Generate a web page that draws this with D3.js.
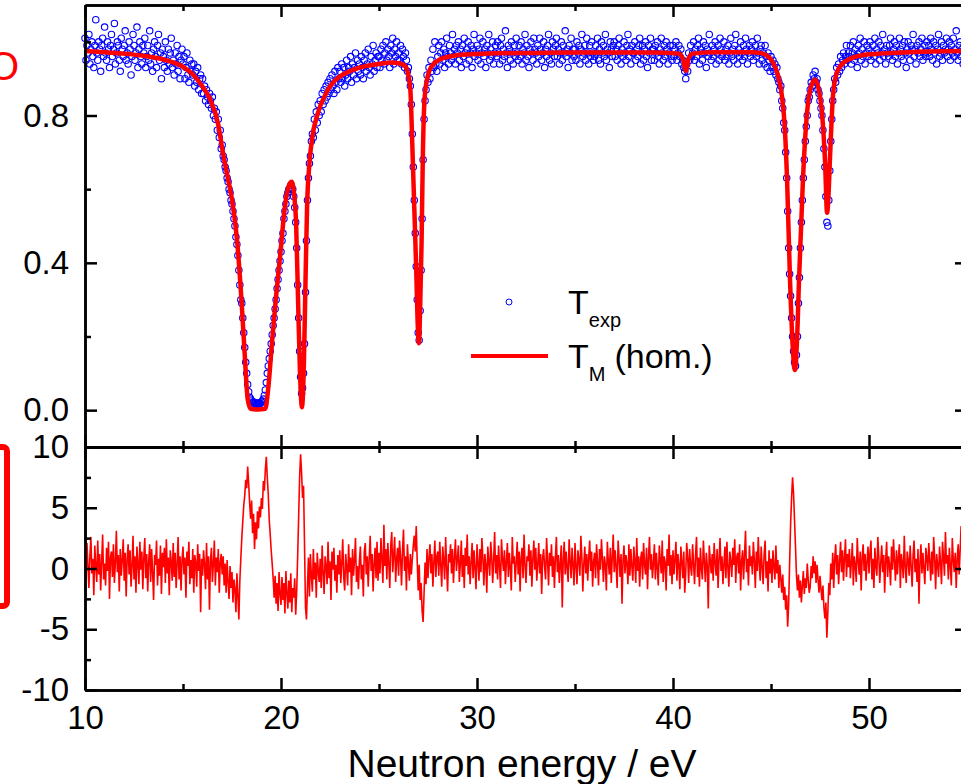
<!DOCTYPE html>
<html>
<head>
<meta charset="utf-8">
<script src="https://cdn.jsdelivr.net/npm/d3@7"></script>
<style>
  body { margin: 0; background: #fff; }
  svg { display: block; font-family: Arial, "Liberation Sans", sans-serif; }
</style>
</head>
<body>
<svg id="chart"></svg>
<script>
// fitted curve T_M (hom.)
const fitE = [10, 11, 12, 13, 14, 14.5, 15, 15.5, 16, 16.4, 16.8, 17.0, 17.25, 17.5, 17.75, 18.0, 18.15, 18.3, 18.45, 18.8, 19.2,
  19.35, 19.55, 19.75, 19.95, 20.2, 20.4, 20.55, 20.68, 20.77, 20.87, 20.97, 21.07, 21.17, 21.25, 21.33, 21.45, 21.58, 21.89,
  22.2, 22.5, 23, 23.5, 24, 25, 25.6, 26.0, 26.3, 26.45, 26.6, 26.7, 26.8, 26.9, 26.97, 27.04, 27.1, 27.17, 27.24, 27.32,
  27.45, 27.7, 28.1, 28.8, 29.6, 31, 33, 35, 37, 39, 40.3, 40.5, 40.66, 40.8, 41.0, 42, 43, 44, 44.44, 44.8, 45.1, 45.35,
  45.56, 45.7, 45.82, 45.97, 46.1, 46.22, 46.32, 46.43, 46.63, 46.84, 47.0, 47.24, 47.42, 47.6, 47.76, 47.86, 47.93, 48.0,
  48.16, 48.3, 48.52, 49, 50, 52, 55];
const fitT = [.975, .972, .968, .962, .952, .944, .932, .912, .878, .842, .775, .71, .64, .571, .465, .285, .15, .03, .004, .002, .004,
  .06, .19, .31, .416, .552, .61, .62, .58, .509, .30, .10, .008, .13, .35, .552, .67, .735, .808,
  .85, .879, .906, .92, .93, .94, .944, .942, .936, .92, .87, .72, .55, .38, .24, .182, .28, .45, .70, .84,
  .898, .935, .952, .962, .966, .969, .970, .971, .971, .971, .968, .955, .921, .955, .968, .972, .972, .972, .970, .962, .944, .91,
  .852, .77, .626, .354, .18, .109, .18, .354, .626, .808, .87, .898, .875, .808, .672, .536, .58, .672,
  .852, .905, .933, .953, .966, .972, .975];

// measured transmission, one row per eV, points 0.05 eV apart
const expStart = 10;
const expStep = 0.05;
const expRows = [
  [1.01,.95,.99,.97,1.02,.94,.98,1.00,.96,.93,.99,1.06,.97,.95,1.00,.98,.92,.99,1.01,.96],
  [1.04,.97,.95,1.00,.98,.93,.99,1.02,.96,.98,1.05,.94,.97,1.00,.99,.95,.92,1.01,.98,.96],
  [.99,1.03,.95,.97,.94,1.00,.98,.91,.96,1.02,.99,.95,.97,1.04,.93,.98,1.00,.96,.94,.99],
  [.97,1.01,.93,.96,.99,.95,1.03,.94,.97,.92,.98,1.00,.96,.93,.99,1.02,.95,.97,.90,.98],
  [.96,.93,1.00,.95,.92,.98,.94,.97,1.01,.93,.95,.91,.97,.94,.99,.92,.96,.90,.95,.98],
  [.94,.96,.90,.93,.97,.91,.89,.95,.92,.94,.91,.94,.88,.92,.89,.93,.87,.90,.91,.86],
  [.90,.86,.88,.84,.87,.85,.83,.86,.84,.82,.85,.80,.82,.79,.81,.76,.79,.74,.76,.71],
  [.72,.69,.68,.66,.65,.63,.62,.60,.59,.57,.56,.54,.52,.50,.47,.45,.42,.38,.34,.30],
  [.29,.25,.21,.17,.13,.10,.07,.05,.035,.03,.025,.02,.022,.018,.02,.016,.019,.017,.02,.018],
  [.022,.025,.03,.04,.055,.075,.10,.12,.14,.16,.18,.205,.23,.25,.275,.30,.33,.355,.38,.405],
  [.43,.46,.48,.52,.54,.56,.58,.59,.60,.60,.61,.60,.60,.58,.55,.51,.44,.34,.25,.16],
  [.09,.045,.06,.10,.18,.32,.46,.57,.63,.67,.69,.73,.75,.74,.79,.76,.81,.78,.83,.80],
  [.84,.81,.86,.83,.87,.84,.88,.85,.89,.86,.90,.87,.91,.88,.86,.92,.89,.87,.93,.90],
  [.92,.89,.94,.90,.93,.88,.91,.95,.90,.93,.92,.96,.89,.94,.91,.93,.97,.90,.95,.92],
  [.94,.91,.96,.93,.90,.95,.97,.92,.94,.98,.93,.91,.96,.94,.99,.92,.95,.97,.93,.96],
  [.96,.93,.98,.95,.99,.94,.97,1.00,.95,.98,.96,.93,.99,.97,1.01,.94,.98,.96,1.00,.95],
  [.97,.95,.99,.94,.98,.96,.93,.97,.95,.92,.93,.90,.88,.83,.75,.66,.57,.48,.39,.30],
  [.21,.19,.27,.38,.52,.68,.79,.84,.87,.91,.89,.93,.90,.95,.92,.98,.93,1.00,.94,.92],
  [.96,.99,.94,.97,1.00,.95,.98,.93,.97,1.01,.96,.94,.99,.97,.95,1.02,.96,.98,.94,.99],
  [.97,1.00,.95,.98,.93,.99,.96,1.01,.97,.94,.98,1.00,.95,.97,.99,.93,.98,1.02,.96,.97],
  [.99,.95,.98,1.01,.94,.97,1.00,.96,.98,.93,.99,.97,1.02,.95,.98,.96,1.00,.94,.97,.99],
  [.96,1.00,.97,.94,.99,1.01,.95,.98,.96,1.03,.97,.93,.99,.98,.95,1.00,.97,.94,.99,.96],
  [1.01,.97,.95,.99,.96,1.00,.94,.98,.97,1.02,.95,.99,.96,.93,.98,1.00,.97,.95,1.01,.98],
  [.97,.94,.99,.96,1.01,.98,.95,.97,1.00,.93,.98,.96,.99,1.02,.95,.97,.94,1.00,.98,.96],
  [.99,1.01,.96,.98,.94,.97,1.00,.95,.99,.97,1.03,.96,.98,.93,.99,.97,1.01,.95,.98,.96],
  [.98,.95,1.00,.97,.99,.94,.98,1.02,.96,.97,.99,.95,1.01,.97,.94,.99,.96,1.00,.97,.95],
  [.96,.99,.97,1.01,.95,.98,.94,1.00,.97,.99,.96,1.02,.95,.98,.97,.93,1.00,.98,.96,.99],
  [1.00,.96,.98,.95,.99,1.01,.97,.94,.98,.96,1.00,.97,.95,.99,1.02,.96,.98,.94,.99,.97],
  [.97,1.00,.95,.98,.96,.99,1.01,.94,.97,.99,.95,.98,1.00,.96,.93,.99,.97,1.01,.95,.98],
  [.98,.95,.99,.97,1.00,.96,.94,.98,1.01,.97,.95,.99,.96,1.00,.98,.94,.97,.99,.96,.95],
  [.99,.96,.98,1.00,.95,.97,.99,.96,.98,.94,.95,.93,.92,.90,.94,.92,.97,.95,.99,.96],
  [.97,1.00,.95,.98,.96,.99,1.01,.94,.98,.97,.95,1.00,.97,.99,.93,.98,.96,1.02,.97,.95],
  [.99,.96,.98,1.00,.94,.97,.99,.95,1.01,.98,.96,.97,1.00,.95,.98,.96,.99,.94,.97,1.01],
  [.96,.98,.95,.99,1.02,.97,.94,.98,.96,1.00,.97,.95,.99,.96,1.01,.98,.94,.97,.99,.96],
  [.98,1.00,.95,.97,.99,.96,1.01,.97,.94,.98,.99,.95,.97,.94,.99,.96,.93,.97,.95,.92],
  [.96,.93,.95,.92,.94,.91,.93,.90,.89,.87,.88,.84,.82,.78,.76,.70,.63,.54,.44,.37],
  [.31,.25,.20,.16,.13,.12,.15,.20,.29,.36,.44,.51,.57,.63,.68,.73,.77,.80,.84,.85],
  [.87,.89,.88,.91,.90,.92,.89,.90,.87,.86,.84,.82,.80,.76,.71,.66,.58,.51,.50,.57],
  [.65,.73,.79,.84,.87,.90,.89,.93,.91,.94,.92,.96,.93,.95,.97,.94,.96,.99,.95,.97],
  [.96,.99,.94,.97,1.00,.95,.98,.96,.93,.99,.97,1.01,.95,.98,.96,1.00,.94,.97,.99,.96],
  [.98,1.00,.95,.97,.99,.96,1.01,.94,.98,.97,1.00,.95,.99,.97,1.02,.96,.98,.94,.99,.97],
  [.96,.99,1.01,.97,.95,.98,1.00,.96,.99,.94,.97,1.01,.98,.96,.99,.95,1.00,.97,.93,.98],
  [1.00,.97,.95,.99,.98,1.02,.96,.98,.94,.99,.97,1.00,.96,.98,1.01,.95,.97,.99,.96,1.00],
  [.97,.99,.96,1.01,.98,.95,1.00,.97,.99,.94,.98,1.02,.96,.97,1.00,.95,.99,.97,.98,1.01],
  [.96,.98,1.00,.95,.99,.97,1.01,.96,.98,1.03,.97,.95,.99,1.00,.96,.98,.94,.99,.97,1.00],
  [.98]
];

// residuals on the same grid
const resRows = [
  [1.5,-0.8,2.1,0.3,-1.6,1.0,2.6,-0.4,0.8,-2.2,1.9,0.2,-1.1,2.3,-0.5,1.2,-1.8,0.6,2.8,-0.9],
  [0.4,-1.4,1.7,-0.2,2.2,-2.5,0.9,1.4,-0.7,2.0,-1.2,0.5,3.1,-0.3,1.1,-1.9,1.6,-0.6,0.7,2.4],
  [-1.0,1.3,-2.3,0.8,2.0,-0.5,1.5,-1.5,0.2,2.7,-0.9,1.0,-2.0,1.8,0.4,-1.3,2.2,-0.1,1.4,-1.7],
  [0.9,2.5,-0.8,1.2,-1.9,0.6,2.0,-1.1,1.6,-0.3,-2.6,1.1,0.3,2.3,-1.4,0.8,-0.6,1.9,-2.1,1.3],
  [0.1,1.7,-1.2,2.4,-0.4,0.9,-2.2,1.5,0.6,-1.0,2.1,-0.7,1.3,-1.6,0.4,2.6,-0.9,1.0,-1.8,0.7],
  [1.8,-0.5,0.9,-2.4,1.4,0.2,2.2,-1.3,0.7,-0.8,1.6,-2.0,1.1,0.5,-1.5,2.0,-0.2,1.2,-3.6,0.8],
  [-0.6,1.5,0.3,-1.7,2.1,-0.9,1.0,-3.4,0.6,1.7,-1.1,0.4,2.3,-1.4,0.9,-0.3,1.6,-2.0,0.5,1.2],
  [-0.5,1.0,-1.4,0.4,-2.0,0.7,-1.1,-2.5,0.2,-1.6,-0.3,-2.8,-0.9,-1.7,-3.6,-0.4,-2.2,-4.2,-1.0,0.8],
  [2.5,3.9,5.2,6.0,7.3,6.6,8.4,7.0,5.4,4.1,5.6,2.9,4.5,1.6,3.8,2.4,4.7,3.3,5.1,4.2],
  [5.8,4.9,7.2,6.4,8.1,9.2,7.5,6.1,4.0,2.8,1.5,0.4,-0.8,-2.4,-0.6,-2.9,-1.2,-3.5,-0.3,-2.1],
  [-3.0,-0.7,-2.6,-1.2,-3.7,-0.2,-2.0,-3.3,-1.0,-2.8,-0.4,-3.6,-1.6,-2.4,-0.8,-3.8,-1.9,1.0,4.2,7.5],
  [9.4,7.9,5.8,6.8,2.0,-3.2,-4.2,-1.5,0.9,-2.3,1.2,-0.6,-1.9,1.6,-0.9,0.5,-2.4,1.3,-0.2,-1.1],
  [0.8,-1.6,1.9,-0.4,-2.1,1.0,0.2,-1.3,2.2,-0.8,0.6,-2.6,1.4,-0.1,1.7,-1.0,0.3,-2.0,1.1,-0.5],
  [1.5,-1.2,0.4,2.4,-0.7,-1.8,1.2,0.1,-1.4,2.0,-0.3,0.9,-2.2,1.6,-0.6,0.7,2.5,-1.1,0.2,-1.7],
  [0.6,1.8,-0.9,0.3,-2.3,1.4,2.1,-0.5,1.0,-1.5,0.8,2.7,-0.2,1.2,-1.9,0.4,1.7,-0.8,2.2,-1.0],
  [1.3,-0.4,2.5,0.7,-1.2,3.6,0.2,1.6,-0.9,2.1,0.5,-1.6,1.9,3.0,-0.3,1.1,2.6,-1.1,0.8,1.7],
  [-0.6,2.3,0.9,-1.4,1.5,3.2,-0.2,1.0,-1.8,2.0,0.4,-1.0,1.2,-0.5,0.8,1.9,2.7,1.4,3.5,0.6],
  [-1.8,0.3,-2.6,-1.2,-3.5,-4.4,-2.0,0.5,-1.3,1.6,-0.8,0.9,2.0,-0.4,1.2,-1.5,0.6,2.3,-0.7,1.0],
  [1.4,-0.6,2.2,0.3,-1.5,1.8,0.7,-0.9,2.6,0.1,-1.9,1.2,0.5,2.0,-0.4,1.6,-1.2,0.9,2.4,-0.2],
  [0.8,1.9,-1.1,0.4,2.3,-0.7,1.1,-1.6,1.7,0.2,2.8,-0.5,1.0,-1.3,0.6,2.1,-0.8,1.5,0.0,-1.7],
  [2.0,0.5,-1.0,1.6,-0.3,2.5,0.9,-1.4,1.2,0.3,-2.0,1.8,0.6,-0.6,2.2,1.0,-1.2,0.7,3.0,-0.4],
  [1.1,-0.9,1.9,0.2,-1.6,2.4,0.8,-0.2,1.5,-1.3,0.6,2.1,-0.7,1.3,0.0,-1.8,2.6,0.4,1.0,-1.1],
  [0.5,2.2,-0.5,1.4,-1.9,0.9,1.7,-0.8,2.8,0.3,-1.2,1.0,0.6,2.0,-0.6,1.5,-1.5,0.8,2.3,-0.1],
  [1.7,-1.0,0.4,2.1,-0.4,1.2,-2.1,0.9,1.6,0.1,-0.9,2.5,0.7,-1.4,1.3,0.2,2.0,-0.7,1.0,-1.6],
  [0.9,2.6,-0.3,1.1,-1.2,0.5,1.9,-3.2,0.8,2.2,-0.5,1.4,0.0,-1.1,2.4,0.6,-0.8,1.7,0.3,-1.4],
  [2.1,0.2,-1.3,1.5,0.7,-0.6,2.7,1.0,-1.9,0.4,1.8,-0.4,1.2,-1.0,0.9,2.3,-0.2,1.4,-1.5,0.6],
  [1.3,-0.8,2.0,0.5,-1.4,1.6,-0.1,2.4,0.8,-1.1,1.0,0.3,-1.8,2.2,0.6,-0.5,1.7,-1.2,0.9,2.8],
  [-0.3,1.5,0.1,-1.6,2.3,0.9,-0.7,1.2,-2.9,0.7,1.9,-0.4,1.1,0.4,-1.3,2.0,-0.6,1.6,0.2,-1.0],
  [1.8,0.6,-1.2,2.5,-0.2,1.0,-1.5,0.8,1.4,-0.9,2.1,0.3,-0.5,1.7,-1.7,0.9,2.6,-0.1,1.2,-0.8],
  [0.4,2.0,-0.9,1.3,0.1,-1.4,1.9,0.7,-0.4,2.3,-1.1,1.0,0.5,-1.8,1.6,0.2,2.8,-0.6,1.1,-1.3],
  [1.5,-0.5,0.8,2.2,-1.0,1.2,0.3,-1.7,1.8,0.6,-0.8,1.4,-2.0,-0.3,2.1,0.9,-1.2,1.6,0.2,-0.6],
  [2.0,0.4,-1.3,1.1,2.6,-0.7,0.9,-1.5,1.7,0.0,-0.9,2.3,0.6,-1.1,1.3,0.2,-3.3,1.9,0.7,-0.4],
  [1.2,-1.0,2.1,0.5,-0.6,1.6,-1.6,0.8,2.5,-0.2,1.0,-1.3,0.4,1.8,-0.8,2.2,0.1,-1.5,1.4,0.6],
  [-0.7,1.7,0.3,2.4,-1.2,0.9,1.3,-0.4,2.0,-1.8,0.6,1.5,-0.9,1.1,3.1,-0.3,0.8,-1.4,1.9,0.2],
  [1.0,-0.5,2.2,0.7,-1.6,1.4,-0.2,2.6,0.4,-1.0,1.8,0.1,-1.3,1.2,2.3,-0.8,0.6,-1.9,1.5,-0.4],
  [0.8,-1.2,1.5,0.2,-0.9,1.9,-0.4,0.7,-1.6,0.3,-0.8,-2.0,-0.5,-2.6,-1.5,-3.4,-2.2,-4.8,-3.0,0.5],
  [3.6,5.8,7.5,6.2,4.0,1.8,-0.6,-1.8,-0.5,-2.4,-1.0,-2.8,-1.4,-0.2,-2.1,-0.8,-1.6,0.4,-0.9,-2.0],
  [-1.5,0.2,-0.8,1.0,-0.4,0.6,-1.2,0.3,-0.9,-2.0,-0.6,-1.7,-2.6,-1.4,-3.2,-4.1,-2.8,-5.7,-3.6,-1.2],
  [-2.2,0.4,-0.9,1.3,-1.6,0.8,2.0,-0.5,1.1,-1.3,0.6,2.2,-0.3,1.5,-1.0,0.9,2.4,-0.7,1.2,0.1],
  [1.6,-0.8,0.5,2.1,-1.4,1.0,0.3,-1.1,2.5,0.7,-0.5,1.4,-1.8,0.9,2.0,-0.2,1.2,-1.0,0.6,1.8],
  [-0.4,1.3,2.3,-0.9,0.8,-1.6,1.7,0.2,-0.6,2.6,1.0,-1.2,0.5,1.9,-0.3,1.1,-2.0,0.7,2.2,-0.7],
  [1.0,0.3,-1.4,1.8,-0.1,2.4,0.6,-1.0,1.5,-0.5,0.9,2.0,-1.6,1.2,0.4,-0.8,2.7,0.1,-1.2,1.4],
  [0.7,-0.6,1.9,0.2,-1.5,1.1,2.3,-0.3,0.8,-1.1,1.6,-2.9,0.5,2.0,-0.4,1.3,0.0,-1.3,1.7,0.9],
  [-0.2,2.1,0.6,-1.0,1.4,-0.5,2.6,0.9,-1.7,1.2,0.3,-0.7,1.8,0.5,-1.3,2.2,1.0,-0.6,3.0,0.4],
  [1.1,-0.9,1.7,0.2,-1.4,2.5,0.7,-0.3,1.3,-1.6,0.8,2.0,-0.5,1.5,3.5,0.6,-1.2,1.0,2.2,-0.4],
  [0.8]
];

const xTicks = [10, 20, 30, 40, 50];
const xMinor = [15, 25, 35, 45];
const tTicks = [0, 0.4, 0.8];
const tMinor = [0.2, 0.6, 1.0];
const rTicks = [-10, -5, 0, 5, 10];
const rMinor = [-7.5, -2.5, 2.5, 7.5];

const W = 961, H = 784;
const left = 85, right = 967;
const topY = 5, midY = 447, botY = 690;

const svg = d3.select('#chart').attr('width', W).attr('height', H);

const x = d3.scaleLinear().domain([10, 55]).range([left, right]);
const yT = d3.scaleLinear().domain([-0.1, 1.1]).range([midY, topY]);
const yR = d3.scaleLinear().domain([-10, 10]).range([botY, midY]);

function onGrid(rows) {
  const pts = [];
  rows.forEach((row, r) => row.forEach((v, j) => {
    pts.push({ e: +(expStart + r + j * expStep).toFixed(2), v: v });
  }));
  return pts;
}

const expPts = onGrid(expRows);
const resPts = onGrid(resRows);
const fitPts = fitE.map((e, i) => ({ e: e, v: fitT[i] }));

// measured points
svg.append('g')
  .selectAll('circle')
  .data(expPts)
  .enter()
  .append('circle')
  .attr('cx', d => x(d.e))
  .attr('cy', d => yT(d.v))
  .attr('r', 3.2)
  .attr('fill', 'none')
  .attr('stroke', '#0000ff')
  .attr('stroke-width', 1.1);

// fit
svg.append('path')
  .datum(fitPts)
  .attr('fill', 'none')
  .attr('stroke', '#ff0000')
  .attr('stroke-width', 4.5)
  .attr('stroke-linejoin', 'round')
  .attr('d', d3.line().x(d => x(d.e)).y(d => yT(d.v)).curve(d3.curveMonotoneX));

// residuals
svg.append('path')
  .datum(resPts)
  .attr('fill', 'none')
  .attr('stroke', '#ff0000')
  .attr('stroke-width', 1.6)
  .attr('d', d3.line().x(d => x(d.e)).y(d => yR(d.v)));

function drawAxis(axis, transform) {
  const g = svg.append('g').attr('transform', transform).call(axis);
  g.select('.domain').attr('stroke', '#000').attr('stroke-width', 2.5);
  g.selectAll('.tick line').attr('stroke', '#000').attr('stroke-width', 2.5);
  g.selectAll('.tick text').attr('font-size', 33).attr('fill', '#000');
  return g;
}

const none = () => '';
const plain = d => String(d);

function panelAxes(y, ticks, minor, yTop, yBot, fmt, withX) {
  drawAxis(d3.axisLeft(y).tickValues(ticks).tickSize(-12).tickSizeOuter(0).tickPadding(16).tickFormat(fmt),
    `translate(${left},0)`);
  drawAxis(d3.axisLeft(y).tickValues(minor).tickSize(-6).tickSizeOuter(0).tickFormat(none),
    `translate(${left},0)`);
  drawAxis(d3.axisRight(y).tickValues(ticks).tickSize(-12).tickSizeOuter(0).tickFormat(none),
    `translate(${right},0)`);
  drawAxis(d3.axisRight(y).tickValues(minor).tickSize(-6).tickSizeOuter(0).tickFormat(none),
    `translate(${right},0)`);
  drawAxis(d3.axisTop(x).tickValues(xTicks).tickSize(-12).tickSizeOuter(0).tickFormat(none),
    `translate(0,${yTop})`);
  drawAxis(d3.axisTop(x).tickValues(xMinor).tickSize(-6).tickSizeOuter(0).tickFormat(none),
    `translate(0,${yTop})`);
  drawAxis(d3.axisBottom(x).tickValues(xTicks).tickSize(-12).tickSizeOuter(0).tickPadding(16)
    .tickFormat(withX ? plain : none), `translate(0,${yBot})`);
  drawAxis(d3.axisBottom(x).tickValues(xMinor).tickSize(-6).tickSizeOuter(0).tickFormat(none),
    `translate(0,${yBot})`);
}

panelAxes(yT, tTicks, tMinor, topY, midY, d3.format('.1f'), false);
panelAxes(yR, rTicks, rMinor, midY, botY, plain, true);

svg.append('text')
  .attr('x', 522)
  .attr('y', 777)
  .attr('text-anchor', 'middle')
  .attr('font-size', 39)
  .text('Neutron energy / eV');

// legend
svg.append('circle')
  .attr('cx', 509).attr('cy', 302).attr('r', 3)
  .attr('fill', 'none').attr('stroke', '#0000ff').attr('stroke-width', 1);

const l1 = svg.append('text').attr('x', 568).attr('y', 314).attr('font-size', 34);
l1.append('tspan').text('T');
l1.append('tspan').attr('font-size', 20).attr('dy', 13).text('exp');

svg.append('line')
  .attr('x1', 471).attr('x2', 548).attr('y1', 356).attr('y2', 356)
  .attr('stroke', '#ff0000').attr('stroke-width', 4);

const l2 = svg.append('text').attr('x', 568).attr('y', 368).attr('font-size', 34);
l2.append('tspan').text('T');
l2.append('tspan').attr('font-size', 20).attr('dy', 13).text('M');
l2.append('tspan').attr('dy', -13).attr('dx', 9).text('(hom.)');

// cut-off pieces at the left edge, as in the original
svg.append('text')
  .attr('x', 19).attr('y', 80)
  .attr('text-anchor', 'end')
  .attr('font-size', 40)
  .attr('fill', '#ff0000')
  .text('O');

svg.append('rect')
  .attr('x', -60).attr('y', 447).attr('width', 67).attr('height', 159)
  .attr('rx', 4)
  .attr('fill', 'none').attr('stroke', '#ff0000').attr('stroke-width', 6);
</script>
</body>
</html>
